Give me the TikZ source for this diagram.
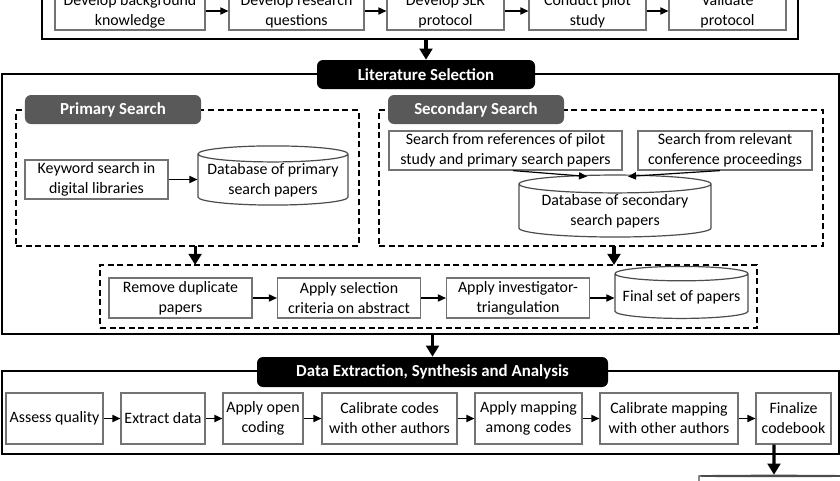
\documentclass[tikz,border=0pt]{standalone}
\usepackage{fontspec}
\setmainfont{Carlito}
\usetikzlibrary{arrows.meta,shapes.geometric}

\tikzset{
  box/.style={draw=black!55, line width=0.3mm, fill=white, align=center, inner sep=0.3mm},
  db/.style={cylinder, shape border rotate=90, aspect=0.12, draw=black!70, line width=0.3mm, fill=white, align=center, inner sep=0.3mm},
  frame/.style={draw=black, line width=0.55mm, inner sep=0, outer sep=0},
  group/.style={draw=black, line width=0.35mm, dash pattern=on 1.5mm off 0.9mm, inner sep=0, outer sep=0},
  title/.style={fill=black, text=white, font=\fontsize{12}{14.4}\selectfont\bfseries, rounded corners=1.5mm, inner sep=0},
  subtitle/.style={fill=black!65, text=white, font=\fontsize{12}{14.4}\selectfont\bfseries, rounded corners=1.5mm, inner sep=0},
  flow/.style={-{Triangle[length=2mm,width=1.8mm]}, line width=0.3mm},
  bigflow/.style={-{Triangle[length=2.8mm,width=3.2mm]}, line width=0.8mm},
}

\begin{document}
\begin{tikzpicture}[x=0.25mm,y=0.25mm,font=\fontsize{11.3}{14.2}\selectfont]
\clip (0,0) rectangle (840,-480);

\node[frame, minimum width=189mm, minimum height=14.75mm] (plan) at (420,-9.5) {};
\node[box, minimum width=37.5mm, minimum height=9.5mm] (bg) at (130,-11) {Develop background\\knowledge};
\node[box, minimum width=33.75mm, minimum height=9.5mm] (rq) at (296.5,-11) {Develop research\\questions};
\node[box, minimum width=29.25mm, minimum height=9.5mm] (slr) at (445.5,-11) {Develop SLR\\protocol};
\node[box, minimum width=29.25mm, minimum height=9.5mm] (pilot) at (587.5,-11) {Conduct pilot\\study};
\node[box, minimum width=29.25mm, minimum height=9.5mm] (valid) at (727.5,-11) {Validate\\protocol};
\draw[flow] (bg) -- (rq);
\draw[flow] (rq) -- (slr);
\draw[flow] (slr) -- (pilot);
\draw[flow] (pilot) -- (valid);

\node[frame, minimum width=209.25mm, minimum height=65mm] (lit) at (420.5,-204) {};
\node[title, minimum width=54.5mm, minimum height=7.25mm] (littitle) at (426,-74.5) {Literature Selection};
\draw[bigflow] (littitle.north |- plan.south) -- (littitle.north);

\node[group, minimum width=85.75mm, minimum height=34mm] (prim) at (187.5,-178) {};
\node[subtitle, minimum width=44mm, minimum height=7.25mm] (primtitle) at (113,-109.5) {Primary Search};
\node[box, minimum width=35.75mm, minimum height=9.75mm] (kw) at (96.5,-179.5) {Keyword search in\\digital libraries};
\node[db, minimum width=37.5mm, minimum height=14.25mm] (pdb) at (273,-180.5) {Database of primary\\search papers};
\draw[flow] (kw) -- (kw -| pdb.west);

\node[group, minimum width=111mm, minimum height=34mm] (sec) at (601,-178) {};
\node[subtitle, minimum width=44mm, minimum height=7.25mm] (sectitle) at (476,-109.5) {Secondary Search};
\node[box, minimum width=58.25mm, minimum height=9.75mm] (refs) at (505.5,-150.5) {Search from references of pilot\\study and primary search papers};
\node[box, minimum width=43.5mm, minimum height=9.75mm] (conf) at (725,-150.5) {Search from relevant\\conference proceedings};
\node[db, minimum width=48mm, minimum height=14.25mm] (sdb) at (615,-211.5) {Database of secondary\\search papers};
\draw[flow] ([xshift=1.9mm]refs.south) -- ([xshift=-7mm,yshift=-0.5mm]sdb.north);
\draw[flow] ([xshift=-1.25mm]conf.south) -- ([xshift=3.25mm,yshift=-0.5mm]sdb.north);

\node[group, minimum width=164.25mm, minimum height=15.75mm] (sel) at (428.5,-296.5) {};
\node[box, minimum width=35.75mm, minimum height=10mm] (dup) at (180.5,-298) {Remove duplicate\\papers};
\node[box, minimum width=35.75mm, minimum height=10mm] (crit) at (349,-298) {Apply selection\\criteria on abstract};
\node[box, minimum width=35.75mm, minimum height=10mm] (tri) at (518,-298) {Apply investigator-\\triangulation};
\node[db, minimum width=33.25mm, minimum height=13mm] (final) at (681.5,-297) {Final set of papers};
\draw[flow] (dup) -- (crit);
\draw[flow] (crit) -- (tri);
\draw[flow] (tri) -- (tri -| final.west);
\draw[bigflow] ([xshift=1.9mm]prim.south) -- ([xshift=1.9mm]prim.south |- sel.north);
\draw[bigflow] ([xshift=3.25mm]sec.south) -- ([xshift=3.25mm]sec.south |- sel.north);

\node[frame, minimum width=209.25mm, minimum height=20.75mm] (ext) at (420.5,-412.5) {};
\node[title, minimum width=87.75mm, minimum height=7.5mm] (exttitle) at (432.5,-372) {Data Extraction, Synthesis and Analysis};
\draw[bigflow] (exttitle.north |- lit.south) -- (exttitle.north);

\node[box, minimum width=24.25mm, minimum height=12.75mm] (qual) at (54.5,-418.5) {Assess quality};
\node[box, minimum width=21mm, minimum height=12.75mm] (data) at (163,-418.5) {Extract data};
\node[box, minimum width=20mm, minimum height=12.75mm] (open) at (263,-418.5) {Apply open\\coding};
\node[box, minimum width=33.75mm, minimum height=12.75mm] (calcode) at (389.5,-418.5) {Calibrate codes\\with other authors};
\node[box, minimum width=26.75mm, minimum height=12.75mm] (map) at (528.5,-418.5) {Apply mapping\\among codes};
\node[box, minimum width=34.5mm, minimum height=12.75mm] (calmap) at (669,-418.5) {Calibrate mapping\\with other authors};
\node[box, minimum width=18.75mm, minimum height=12.75mm] (book) at (793.5,-418.5) {Finalize\\codebook};
\draw[flow] (qual) -- (data);
\draw[flow] (data) -- (open);
\draw[flow] (open) -- (calcode);
\draw[flow] (calcode) -- (map);
\draw[flow] (map) -- (calmap);
\draw[flow] (calmap) -- (book);

\node[db, aspect=0.55, minimum width=37.5mm, minimum height=25mm] (out) at (774,-526) {};
\draw[bigflow] ([xshift=-4.875mm]book.south) -- (out.north);
\end{tikzpicture}
\end{document}
